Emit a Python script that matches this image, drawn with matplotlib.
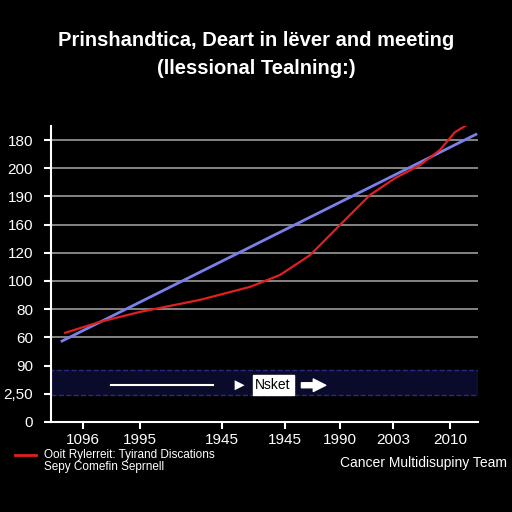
import matplotlib
matplotlib.use("Agg")
import matplotlib.pyplot as plt
from matplotlib.patches import Rectangle

plt.rcParams['font.family'] = ['Liberation Sans', 'DejaVu Sans']

y_labels = ["0", "2,50", "90", "60", "80", "100", "120", "160", "190", "200", "180"]
x_pos = [7.5, 20.8, 40, 54.8, 67.7, 80.1, 93.4]
x_labels = ["1096", "1995", "1945", "1945", "1990", "2003", "2010"]
blue_x = [2.6, 99.5]
blue_y = [2.87, 10.2]
red_x = [3.3, 11.5, 20.8, 34.9, 46.6, 53.6, 60.7, 67.7, 74.7, 80.6, 86.4, 91.1, 94.6, 99.3]
red_y = [3.16, 3.55, 3.90, 4.33, 4.79, 5.21, 5.92, 6.99, 8.05, 8.65, 9.11, 9.65, 10.28, 10.71]

fig = plt.figure(figsize=(5.12, 5.12), dpi=100, facecolor='black')
ax = fig.add_axes([0.0996, 0.176, 0.834, 0.578], facecolor='black')
ax.set_xlim(0, 100)
ax.set_ylim(0, 10.5)
for i in range(3, 11):
    ax.axhline(i, color='#9a9a9a', lw=1.2, zorder=1)
ax.add_patch(Rectangle((0, 0.95), 100, 0.9, facecolor='#0a0a2a', edgecolor='#2a2a80', ls='--', lw=1, zorder=1))
ax.plot(blue_x, blue_y, color='#7a80e8', lw=2, zorder=3)
ax.plot(red_x, red_y, color='#e02020', lw=1.6, zorder=4)

ax.set_yticks(range(11))
ax.set_yticklabels(y_labels)
ax.set_xticks(x_pos)
ax.set_xticklabels(x_labels)
ax.tick_params(colors='white', labelsize=11, length=5, width=1.5)
ax.tick_params(axis='x', pad=3)
ax.tick_params(axis='y', pad=8)
for s in ['top', 'right']:
    ax.spines[s].set_visible(False)
for s in ['left', 'bottom']:
    ax.spines[s].set_color('white')
    ax.spines[s].set_linewidth(1.5)

# annotation arrows
ax.plot([14, 38], [1.3, 1.3], color='white', lw=1.5, zorder=5)
ax.annotate('', xy=(46, 1.3), xytext=(41, 1.3),
            arrowprops=dict(arrowstyle='-|>', color='white', lw=0, mutation_scale=18), zorder=5)
ax.text(52, 1.3, 'Nsket', color='black', fontsize=10, ha='center', va='center',
        bbox=dict(boxstyle='square,pad=0.2', fc='white', ec='white'), zorder=6)
ax.annotate('', xy=(65, 1.3), xytext=(58, 1.3),
            arrowprops=dict(arrowstyle='simple', color='white', mutation_scale=18), zorder=5)

fig.text(0.5, 0.921, 'Prinshandtica, Deart in lëver and meeting', color='white', fontsize=14.5, ha='center', va='center', fontweight='bold')
fig.text(0.5, 0.867, '(llessional Tealning:)', color='white', fontsize=14.5, ha='center', va='center', fontweight='bold')

fig.lines.append(plt.Line2D([0.03, 0.07], [0.111, 0.111], color='#e02020', lw=2, transform=fig.transFigure))
fig.text(0.085, 0.111, 'Ooit Rylerreit: Tyirand Discations', color='white', fontsize=8.5, va='center')
fig.text(0.085, 0.087, 'Sepy Comefin Seprnell', color='white', fontsize=8.5, va='center')
fig.text(0.99, 0.096, 'Cancer Multidisupiny Team', color='white', fontsize=10, va='center', ha='right')

fig.savefig('out.png', dpi=100, facecolor='black')
